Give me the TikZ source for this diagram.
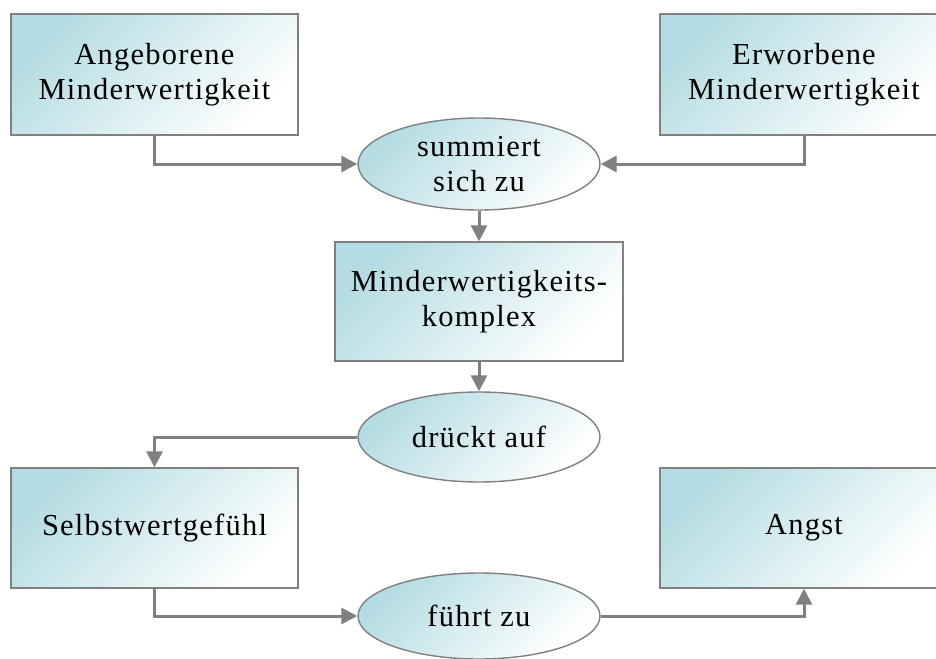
\documentclass[tikz,border=0pt]{standalone}
\usepackage{fontspec}
\setmainfont[LetterSpace=4]{Liberation Serif}
\usetikzlibrary{shapes.geometric,arrows.meta}
\definecolor{tealA}{RGB}{180,220,226}
\definecolor{lineG}{RGB}{128,128,128}
\tikzset{
  fillgrad/.style={top color=tealA, bottom color=white, shading angle=45},
  boxnode/.style={rectangle, draw=lineG, line width=1.4pt, fillgrad, inner sep=0pt, align=center,
    font=\fontsize{30.5}{35}\selectfont},
  ellnode/.style={ellipse, draw=lineG, line width=1.4pt, fillgrad, inner sep=0pt, align=center,
    font=\fontsize{30.5}{35}\selectfont, minimum width=242pt},
  conn/.style={draw=lineG, line width=3pt, -{Triangle[length=16pt,width=16pt]}}
}
\begin{document}
\begin{tikzpicture}[x=1pt,y=-1pt]
\clip (0,0) rectangle (936,658);
\fill[white] (0,0) rectangle (936,658);
\node[boxnode, minimum width=287pt, minimum height=121pt] (A) at (154.5,74.5) {Angeborene\\Minderwertigkeit};
\node[boxnode, minimum width=288pt, minimum height=121pt] (E) at (804,74.5) {Erworbene\\Minderwertigkeit};
\node[ellnode, minimum height=92pt] (S) at (479,164) {summiert\\sich zu};
\node[boxnode, minimum width=288pt, minimum height=119pt] (M) at (479,301.5) {Minderwertigkeits-\\komplex};
\node[ellnode, minimum height=90pt] (D) at (479,437) {drückt auf};
\node[boxnode, minimum width=287pt, minimum height=120pt] (SW) at (154.5,528) {Selbstwertgefühl};
\node[ellnode, minimum height=86pt] (F) at (479,616) {führt zu};
\node[boxnode, minimum width=288pt, minimum height=120pt] (AN) at (804,528) {Angst};
\draw[conn] (A.south) |- (S.west);
\draw[conn] (E.south) |- (S.east);
\draw[conn] (S.south) -- (M.north);
\draw[conn] (M.south) -- (D.north);
\draw[conn] (D.west) -| (SW.north);
\draw[conn] (SW.south) |- (F.west);
\draw[conn] (F.east) -| (AN.south);
\end{tikzpicture}
\end{document}
